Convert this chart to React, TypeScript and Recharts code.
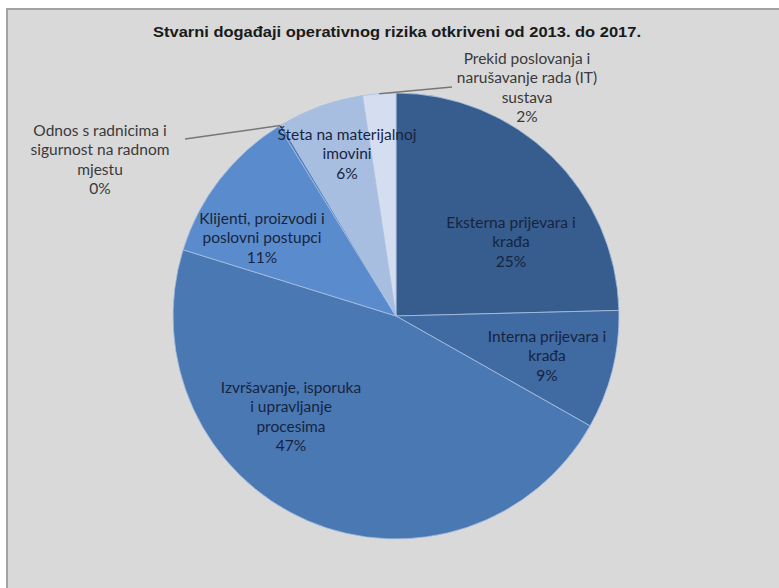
import { PieChart, Pie, Cell } from 'recharts';

const categories = [
  'Eksterna prijevara i krađa',
  'Interna prijevara i krađa',
  'Izvršavanje, isporuka i upravljanje procesima',
  'Klijenti, proizvodi i poslovni postupci',
  'Odnos s radnicima i sigurnost na radnom mjestu',
  'Šteta na materijalnoj imovini',
  'Prekid poslovanja i narušavanje rada (IT) sustava',
];
// shares in % (labels show rounded values)
const shares = [24.6, 8.6, 46.6, 11.4, 0.2, 6.2, 2.4];
const labelLines = [
  ['Eksterna prijevara i', 'krađa'],
  ['Interna prijevara i', 'krađa'],
  ['Izvršavanje, isporuka', 'i upravljanje', 'procesima'],
  ['Klijenti, proizvodi i', 'poslovni postupci'],
  ['Odnos s radnicima i', 'sigurnost na radnom', 'mjestu'],
  ['Šteta na materijalnoj', 'imovini'],
  ['Prekid poslovanja i', 'narušavanje rada (IT)', 'sustava'],
];
const title = 'Stvarni događaji operativnog rizika otkriveni od 2013. do 2017.';

const sliceColors = ['#365d8e', '#3f6aa2', '#4a78b3', '#5a8ccd', '#4f81bd', '#a8bee0', '#d4def0'];

// label block anchor (centre of first line), offset from pie centre
const labelPos = [
  [115, -92],
  [151, 22],
  [-105, 73],
  [-134, -96],
  [-296, -184],
  [-49, -180],
  [131, -256],
];
// leader line end near the label (outside labels only), offset from pie centre
const leaderEnd: (number[] | null)[] = [null, null, null, null, [-211, -177], null, [56, -229]];
const outside = [false, false, false, false, true, false, true];

const data = categories.map((name, i) => ({ name, value: shares[i] }));

const RAD = Math.PI / 180;
const LINE_H = 19.5;

const renderLabel = (props: any) => {
  const { cx, cy, midAngle, outerRadius, index, value } = props;
  const [dx, dy] = labelPos[index];
  const x = cx + dx;
  const y = cy + dy;
  const lines = [...labelLines[index], `${Math.round(value)}%`];
  const fill = outside[index] ? '#3a3a3a' : '#17243f';
  const end = leaderEnd[index];
  let leader = null;
  if (end) {
    const ex = cx + outerRadius * Math.cos(-midAngle * RAD);
    const ey = cy + outerRadius * Math.sin(-midAngle * RAD);
    leader = (
      <line x1={ex} y1={ey} x2={cx + end[0]} y2={cy + end[1]} stroke="#777777" strokeWidth={1.5} />
    );
  }
  return (
    <g key={`lbl-${index}`}>
      {leader}
      <text
        x={x}
        y={y}
        textAnchor="middle"
        fill={fill}
        fontFamily="Lato, 'Open Sans', sans-serif"
        fontSize={15.5}
      >
        {lines.map((t, i) => (
          <tspan key={i} x={x} y={y + i * LINE_H} dominantBaseline="middle">
            {t}
          </tspan>
        ))}
      </text>
    </g>
  );
};

export default function App() {
  return (
    <div>
      <div
        style={{
          position: 'fixed',
          left: 6,
          top: 8,
          width: 800,
          height: 600,
          background: '#d9d9d9',
          borderLeft: '2px solid #a3a3a3',
          borderTop: '2px solid #a3a3a3',
        }}
      />
      <div style={{ position: 'fixed', left: 0, top: 0 }}>
        <svg width={779} height={60} style={{ position: 'absolute', left: 0, top: 0 }}>
          <text
            x={397}
            y={37}
            textAnchor="middle"
            fontFamily="'Liberation Sans', Arial, sans-serif"
            fontWeight="bold"
            fontSize={15}
            fill="#1a1a1a"
            textLength={488}
            lengthAdjust="spacingAndGlyphs"
          >
            {title}
          </text>
        </svg>
        <PieChart width={779} height={588} margin={{ top: 0, right: 0, bottom: 0, left: 0 }}>
          <Pie
            data={data}
            dataKey="value"
            nameKey="name"
            cx={396}
            cy={316}
            outerRadius={223}
            startAngle={90}
            endAngle={-270}
            stroke="#a9c0e2"
            strokeWidth={0.8}
            label={renderLabel}
            labelLine={false}
            isAnimationActive={false}
          >
            {data.map((d, i) => (
              <Cell key={d.name} fill={sliceColors[i]} />
            ))}
          </Pie>
        </PieChart>
      </div>
    </div>
  );
}
